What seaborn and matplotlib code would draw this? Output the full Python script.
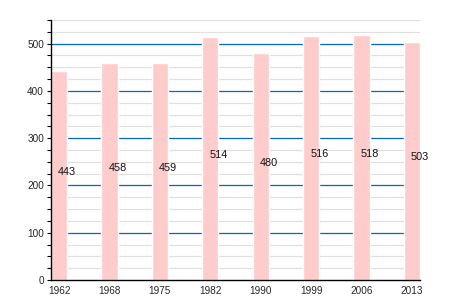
import matplotlib
matplotlib.use("Agg")
import matplotlib.pyplot as plt
import seaborn as sns
import pandas as pd
import numpy as np
from matplotlib.ticker import MultipleLocator

years = ["1962", "1968", "1975", "1982", "1990", "1999", "2006", "2013"]
population = [443, 458, 459, 514, 480, 516, 518, 503]

sns.set_style("white")
plt.rcParams['font.family'] = ['Liberation Sans', 'DejaVu Sans']

df = pd.DataFrame({"year": years, "pop": population})

fig = plt.figure(figsize=(4.5, 3), dpi=100)
ax = fig.add_axes([51/450, 20/300, 369/450, 260/300])

sns.barplot(data=df, x="year", y="pop", color="#ffcccc", width=0.32,
            saturation=1, ax=ax, zorder=2)

ax.set_xlim(-0.16, 7.16)
ax.set_ylim(0, 550)
ax.yaxis.set_major_locator(MultipleLocator(100))
ax.yaxis.set_minor_locator(MultipleLocator(25))

# grid lines
for v in np.arange(25, 551, 25):
    if v % 100 == 0:
        ax.axhline(v, color="#0a64c8", lw=0.9, zorder=1)
    else:
        ax.axhline(v, color="#e0e0e0", lw=0.9, zorder=0)

for i, v in enumerate(population):
    ax.annotate(str(v), xy=(i, v / 2), xytext=(-0.7, 2.6),
                textcoords="offset points", ha="left", va="center",
                fontsize=7.8, color="#111111", zorder=3)

ax.set_xlabel("")
ax.set_ylabel("")
for s in ["top", "right"]:
    ax.spines[s].set_visible(False)
ax.spines["left"].set_color("black")
ax.spines["bottom"].set_color("black")
ax.spines["left"].set_linewidth(1)
ax.spines["bottom"].set_linewidth(1)
ax.tick_params(axis="y", which="both", left=True, length=3, width=0.8,
               color="black", labelsize=7.2, pad=2)
ax.tick_params(axis="x", bottom=False, labelsize=7.2, pad=1)

fig.savefig("out.png", dpi=100)
